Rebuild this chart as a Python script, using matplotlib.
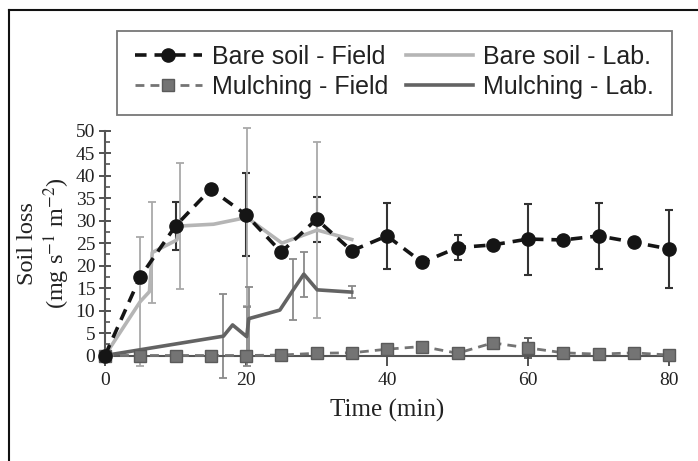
import matplotlib
matplotlib.use("Agg")
import matplotlib.pyplot as plt
from matplotlib.lines import Line2D
from matplotlib.patches import Rectangle

# ---- data ----
t_field = [0, 5, 10, 15, 20, 25, 30, 35, 40, 45, 50, 55, 60, 65, 70, 75, 80]
bare_field = [0, 17.5, 28.8, 37.0, 31.3, 23.0, 30.3, 23.3, 26.6, 20.7, 24.0, 24.6, 25.9, 25.7, 26.6, 25.2, 23.7]
bare_field_err = [0, 0, 5.4, 0, 9.2, 0, 5.0, 0, 7.4, 0, 2.7, 0, 7.9, 0, 7.3, 0, 8.6]
mulch_field = [0, 0, 0, 0, 0, 0.1, 0.5, 0.6, 1.4, 2.0, 0.5, 2.8, 1.7, 0.6, 0.3, 0.6, 0.1]
mulch_field_err = [0, 0, 0, 0, 0, 0, 0, 0, 0, 0, 0, 0, 2.3, 0, 0, 0, 0]

t_lab_bare = [0, 5, 6.3, 6.7, 10.2, 10.6, 15.4, 20.1, 25.1, 30.1, 35.0]
bare_lab = [0, 12.0, 14.2, 22.9, 25.7, 28.8, 29.2, 30.7, 25.0, 27.9, 25.8]
bare_lab_err = [0, 14.3, 0, 11.2, 0, 14.1, 0, 19.8, 0, 19.6, 0]

t_lab_mulch = [0, 16.8, 18.1, 20.1, 20.4, 24.8, 26.7, 28.2, 30.1, 35.0]
mulch_lab = [0, 4.3, 6.8, 4.2, 8.2, 10.1, 14.6, 18.1, 14.6, 14.1]
mulch_lab_err = [0, 9.3, 0, 6.6, 7.1, 0, 6.8, 5.0, 0, 1.4]

labels = ["Bare soil - Field", "Mulching - Field", "Bare soil - Lab.", "Mulching - Lab."]

plt.rcParams["mathtext.fontset"] = "stix"

# ---- figure ----
fig = plt.figure(figsize=(6.98, 4.61), dpi=100)
ax = fig.add_axes([105/698, 1-355.5/461, 564/698, 224.8/461])

serif = ["Liberation Serif", "DejaVu Serif"]
sans = ["Liberation Sans", "DejaVu Sans"]

c_bf = "#151515"
c_mf = "#747474"
c_bl = "#b5b5b5"
c_ml = "#636363"

def nz(t, v, e):
    return ([a for a, c in zip(t, e) if c > 0], [b for b, c in zip(v, e) if c > 0], [c for c in e if c > 0])

# error bars
x, y, e = nz(t_lab_bare, bare_lab, bare_lab_err)
ax.errorbar(x, y, yerr=e, fmt="none", ecolor="#a9a9a9", elinewidth=1.3, capsize=3, capthick=1.3, zorder=2, clip_on=False)
x, y, e = nz(t_lab_mulch, mulch_lab, mulch_lab_err)
ax.errorbar(x, y, yerr=e, fmt="none", ecolor="#8a8a8a", elinewidth=1.3, capsize=3, capthick=1.3, zorder=2, clip_on=False)
x, y, e = nz(t_field, bare_field, bare_field_err)
ax.errorbar(x, y, yerr=e, fmt="none", ecolor="#333333", elinewidth=1.5, capsize=3, capthick=1.5, zorder=1.5, clip_on=False)
x, y, e = nz(t_field, mulch_field, mulch_field_err)
ax.errorbar(x, y, yerr=e, fmt="none", ecolor="#555555", elinewidth=1.3, capsize=3, capthick=1.3, zorder=1.5, clip_on=False)

# lines
l1, = ax.plot(t_field, bare_field, color=c_bf, lw=2.6, dashes=(3.2, 2.2), marker="o", ms=9.5,
              mfc=c_bf, mec=c_bf, zorder=5, clip_on=False)
l2, = ax.plot(t_field, mulch_field, color=c_mf, lw=2.0, dashes=(3.2, 2.2), marker="s", ms=8.3,
              mfc=c_mf, mec="#5a5a5a", zorder=4, clip_on=False)
l3, = ax.plot(t_lab_bare, bare_lab, color=c_bl, lw=2.6, zorder=3, clip_on=False)
l4, = ax.plot(t_lab_mulch, mulch_lab, color=c_ml, lw=2.6, zorder=3, clip_on=False)

ax.set_xlim(0, 80)
ax.set_ylim(0, 50)
ax.set_xticks([0, 20, 40, 60, 80])
ax.set_yticks(range(0, 51, 5))
ax.set_yticks([v + 2.5 for v in range(0, 50, 5)], minor=True)
for s in ["top", "right"]:
    ax.spines[s].set_visible(False)
for s in ["left", "bottom"]:
    ax.spines[s].set_color("#555555")
    ax.spines[s].set_linewidth(1.5)
ax.tick_params(axis="both", which="major", direction="out", length=7, width=1.3, color="#444444",
               labelsize=14, pad=5)
ax.tick_params(axis="y", which="minor", direction="in", length=3.5, width=1.1, color="#444444")
ax.tick_params(axis="y", which="major", direction="inout", length=8, pad=3)
for lab in ax.get_xticklabels() + ax.get_yticklabels():
    lab.set_fontfamily(serif)
    lab.set_color("#222222")

ax.set_xlabel("Time (min)", fontsize=18, family=serif, color="#222222", labelpad=7)
ax.set_ylabel("Soil loss\n(mg s$^{-1}$ m$^{-2}$)", fontsize=17.5, family=serif, color="#222222",
              linespacing=1.18)
ax.yaxis.set_label_coords(-0.058, 0.5)

# legend box
fig.add_artist(Rectangle((117/698, 1-115/461), 555/698, 84/461, transform=fig.transFigure,
                         facecolor="white", edgecolor="#777777", lw=1.3, zorder=1))
handles = [l1, l2, l3, l4]
leg = fig.legend(handles, labels, loc="center", ncol=2,
                 bbox_to_anchor=(394.5/698, 1-72/461),
                 prop={"family": sans, "size": 18}, frameon=False,
                 handlelength=2.7, handletextpad=0.4, borderpad=0, borderaxespad=0,
                 labelspacing=0.25, columnspacing=0.7)
leg.set_zorder(2)
for t in leg.get_texts():
    t.set_color("#222222")

# outer frame (top and left only)
fig.add_artist(Line2D([9/698, 1], [1-10/461, 1-10/461], color="#111111", lw=1.5, transform=fig.transFigure))
fig.add_artist(Line2D([9/698, 9/698], [0, 1-10/461], color="#111111", lw=1.5, transform=fig.transFigure))

fig.savefig("out.png", dpi=100)
